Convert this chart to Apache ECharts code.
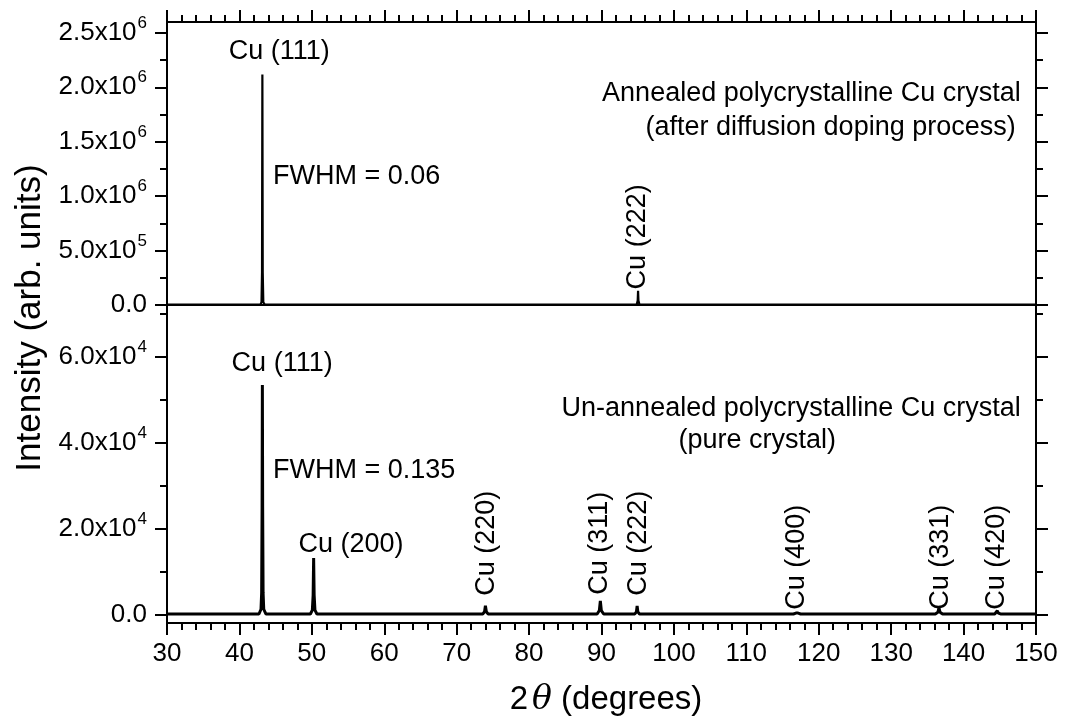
<!DOCTYPE html>
<html><head><meta charset="utf-8">
<script src="https://cdn.jsdelivr.net/npm/echarts@6/dist/echarts.min.js"></script>
<style>html,body{margin:0;padding:0;background:#fff}#c{width:1065px;height:722px}</style>
</head><body><div id="c"></div>
<script>
// ---------- data ----------
const annealed2Theta   = [30, 42.9, 43.05, 43.12, 43.17, 43.22, 43.3, 43.5, 50.0, 50.25, 50.5, 94.85, 95.0, 95.05, 95.1, 95.25, 150];
const annealedIntensity= [3000, 3000, 25000, 300000, 2118000, 300000, 25000, 3000, 3000, 18000, 3000, 3000, 40000, 131700, 40000, 3000, 3000];

const unannealed2Theta = [30, 42.7, 42.98, 43.07, 43.13, 43.17, 43.21, 43.27, 43.36, 43.65,
  49.8, 50.07, 50.18, 50.25, 50.32, 50.43, 50.7,
  73.6, 73.85, 73.97, 74.1, 74.35,
  89.4, 89.7, 89.84, 89.98, 90.3,
  94.6, 94.82, 94.92, 95.02, 95.25,
  116.5, 116.85, 117.0, 117.15, 117.5,
  136.1, 136.45, 136.6, 136.75, 137.1,
  144.3, 144.55, 144.66, 144.8, 145.1, 150];
const unannealedIntensity = [100, 100, 1200, 5000, 25000, 53400, 25000, 5000, 1200, 100,
  100, 1000, 4500, 13100, 4500, 1000, 100,
  100, 600, 2000, 600, 100,
  100, 900, 3150, 900, 100,
  100, 600, 2000, 600, 100,
  100, 300, 750, 300, 100,
  100, 500, 1550, 500, 100,
  100, 300, 850, 300, 100, 100];

const xTickValues = [30, 40, 50, 60, 70, 80, 90, 100, 110, 120, 130, 140, 150];
const topMajorTicks = [0, 5e5, 1e6, 1.5e6, 2e6, 2.5e6];
const topMinorTicks = [2.5e5, 7.5e5, 1.25e6, 1.75e6, 2.25e6];
const bottomMajorTicks = [0, 2e4, 4e4, 6e4];
const bottomMinorTicks = [1e4, 3e4, 5e4, 7e4];

// annotations
const topLabelText   = ['Cu (111)', 'FWHM = 0.06', 'Annealed polycrystalline Cu crystal', '(after diffusion doping process)', 'Cu (222)'];
const topLabelX      = [45.5, 44.65, 147.9, 147.2, 95.0];
const topLabelY      = [2.33e6, 1.179e6, 1.943e6, 1.630e6, 0.626e6];
const topLabelAlign  = ['center', 'left', 'right', 'right', 'center'];
const topLabelRotate = [0, 0, 0, 0, 90];

const botLabelText   = ['Cu (111)', 'FWHM = 0.135', 'Cu (200)', 'Un-annealed polycrystalline Cu crystal', '(pure crystal)',
                        'Cu (220)', 'Cu (311)', 'Cu (222)', 'Cu (400)', 'Cu (331)', 'Cu (420)'];
const botLabelX      = [45.9, 44.65, 55.4, 147.9, 111.5, 74.1, 89.8, 95.15, 117.0, 136.8, 144.6];
const botLabelY      = [58260, 33570, 16330, 47990, 40530, 16560, 16560, 16560, 13300, 13300, 13300];
const botLabelAlign  = ['center', 'left', 'center', 'right', 'center', 'center', 'center', 'center', 'center', 'center', 'center'];
const botLabelRotate = [0, 0, 0, 0, 0, 90, 90, 90, 90, 90, 90];

// ---------- chart ----------
const FONT = '"Liberation Sans", Arial, sans-serif';
const TICK_FS = 26, ANN_FS = 27, TITLE_FS = 35;
const black = '#000';

function sciLabel(v) {
  if (v === 0) return '{n|0.0}';
  const e = Math.floor(Math.log10(Math.abs(v)) + 1e-9);
  const m = v / Math.pow(10, e);
  return '{n|' + m.toFixed(1) + 'x10}{s|' + e + '}';
}
const richSci = {
  n: { fontSize: TICK_FS, fontFamily: FONT, color: black, lineHeight: 36, verticalAlign: 'middle' },
  s: { fontSize: 17, fontFamily: FONT, color: black, lineHeight: 17, verticalAlign: 'top', padding: [0, 0, 0, 1] }
};

function zip(a, b) { return a.map((v, i) => [v, b[i]]); }
function labelData(t, x, y, al, rot) {
  return t.map((s, i) => ({
    value: [x[i], y[i]],
    label: { formatter: s, align: al[i], rotate: rot[i] }
  }));
}

const line = { show: true, onZero: false, lineStyle: { color: black, width: 2 } };
function xAxis(grid, pos, showTicks, showLabels) {
  return {
    type: 'value', gridIndex: grid, position: pos, min: 30, max: 150, interval: 10,
    axisLine: line, splitLine: { show: false },
    axisTick: { show: showTicks, inside: false, length: 12, lineStyle: { color: black, width: 2 } },
    minorTick: { show: showTicks, splitNumber: 5, length: 7, lineStyle: { color: black, width: 2 } },
    axisLabel: { show: showLabels, fontSize: TICK_FS, fontFamily: FONT, color: black, margin: 18,
                 customValues: xTickValues }
  };
}
function yAxis(grid, pos, min, max, ticks, len, showLine, showLabels) {
  return {
    type: 'value', gridIndex: grid, position: pos, min: min, max: max,
    axisLine: Object.assign({}, line, { show: showLine }),
    splitLine: { show: false },
    axisTick: { show: true, inside: false, length: len, customValues: ticks, lineStyle: { color: black, width: 2 } },
    axisLabel: { show: showLabels, customValues: ticks, formatter: sciLabel, rich: richSci, margin: 20 }
  };
}

const chart = echarts.init(document.getElementById('c'), null, { renderer: 'canvas' });
const TOP_MAX = 2.6e6, BOT_MIN = -2000, BOT_MAX = 72000;
const annLabel = { show: true, position: [0, 0], verticalAlign: 'middle', fontSize: ANN_FS, fontFamily: FONT,
                   color: black, textBorderWidth: 0, opacity: 1 };

chart.setOption({
  backgroundColor: '#fff',
  animation: false,
  grid: [
    { left: 167, right: 29, top: 22, height: 283 },
    { left: 167, right: 29, top: 305, height: 318 }
  ],
  xAxis: [
    xAxis(0, 'bottom', false, false),
    xAxis(0, 'top', true, false),
    xAxis(1, 'bottom', true, true),
    xAxis(1, 'top', false, false)
  ],
  yAxis: [
    yAxis(0, 'left', 0, TOP_MAX, topMajorTicks, 12, true, true),
    yAxis(0, 'left', 0, TOP_MAX, topMinorTicks, 7, false, false),
    yAxis(0, 'right', 0, TOP_MAX, topMajorTicks, 12, true, false),
    yAxis(0, 'right', 0, TOP_MAX, topMinorTicks, 7, false, false),
    yAxis(1, 'left', BOT_MIN, BOT_MAX, bottomMajorTicks, 12, true, true),
    yAxis(1, 'left', BOT_MIN, BOT_MAX, bottomMinorTicks, 7, false, false),
    yAxis(1, 'right', BOT_MIN, BOT_MAX, bottomMajorTicks, 12, true, false),
    yAxis(1, 'right', BOT_MIN, BOT_MAX, bottomMinorTicks, 7, false, false)
  ],
  series: [
    { type: 'line', xAxisIndex: 0, yAxisIndex: 0, data: zip(annealed2Theta, annealedIntensity),
      showSymbol: false, symbol: 'none', lineStyle: { color: black, width: 2.2 }, silent: true },
    { type: 'line', xAxisIndex: 2, yAxisIndex: 4, data: zip(unannealed2Theta, unannealedIntensity),
      showSymbol: false, symbol: 'none', lineStyle: { color: black, width: 3 }, silent: true },
    { type: 'scatter', xAxisIndex: 0, yAxisIndex: 0, symbolSize: 0.01, clip: false, silent: true,
      itemStyle: { color: black }, label: annLabel,
      data: labelData(topLabelText, topLabelX, topLabelY, topLabelAlign, topLabelRotate) },
    { type: 'scatter', xAxisIndex: 2, yAxisIndex: 4, symbolSize: 0.01, clip: false, silent: true,
      itemStyle: { color: black }, label: annLabel,
      data: labelData(botLabelText, botLabelX, botLabelY, botLabelAlign, botLabelRotate) }
  ],
  graphic: [
    { type: 'text', x: 30, y: 318, rotation: Math.PI / 2,
      style: { text: 'Intensity (arb. units)', fontSize: TITLE_FS, fontFamily: FONT, fill: black,
               align: 'center', verticalAlign: 'middle' } },
    { type: 'text', x: 606, y: 700,
      style: { text: '{n|2}{t|θ}{n| (degrees)}', align: 'center', verticalAlign: 'middle',
               rich: {
                 n: { fontSize: 33, fontFamily: FONT, fill: black },
                 t: { fontSize: 33, fontFamily: '"DejaVu Serif", serif', fontStyle: 'italic', fill: black, padding: [0, 0, 0, 4] }
               } } }
  ]
});
</script></body></html>
